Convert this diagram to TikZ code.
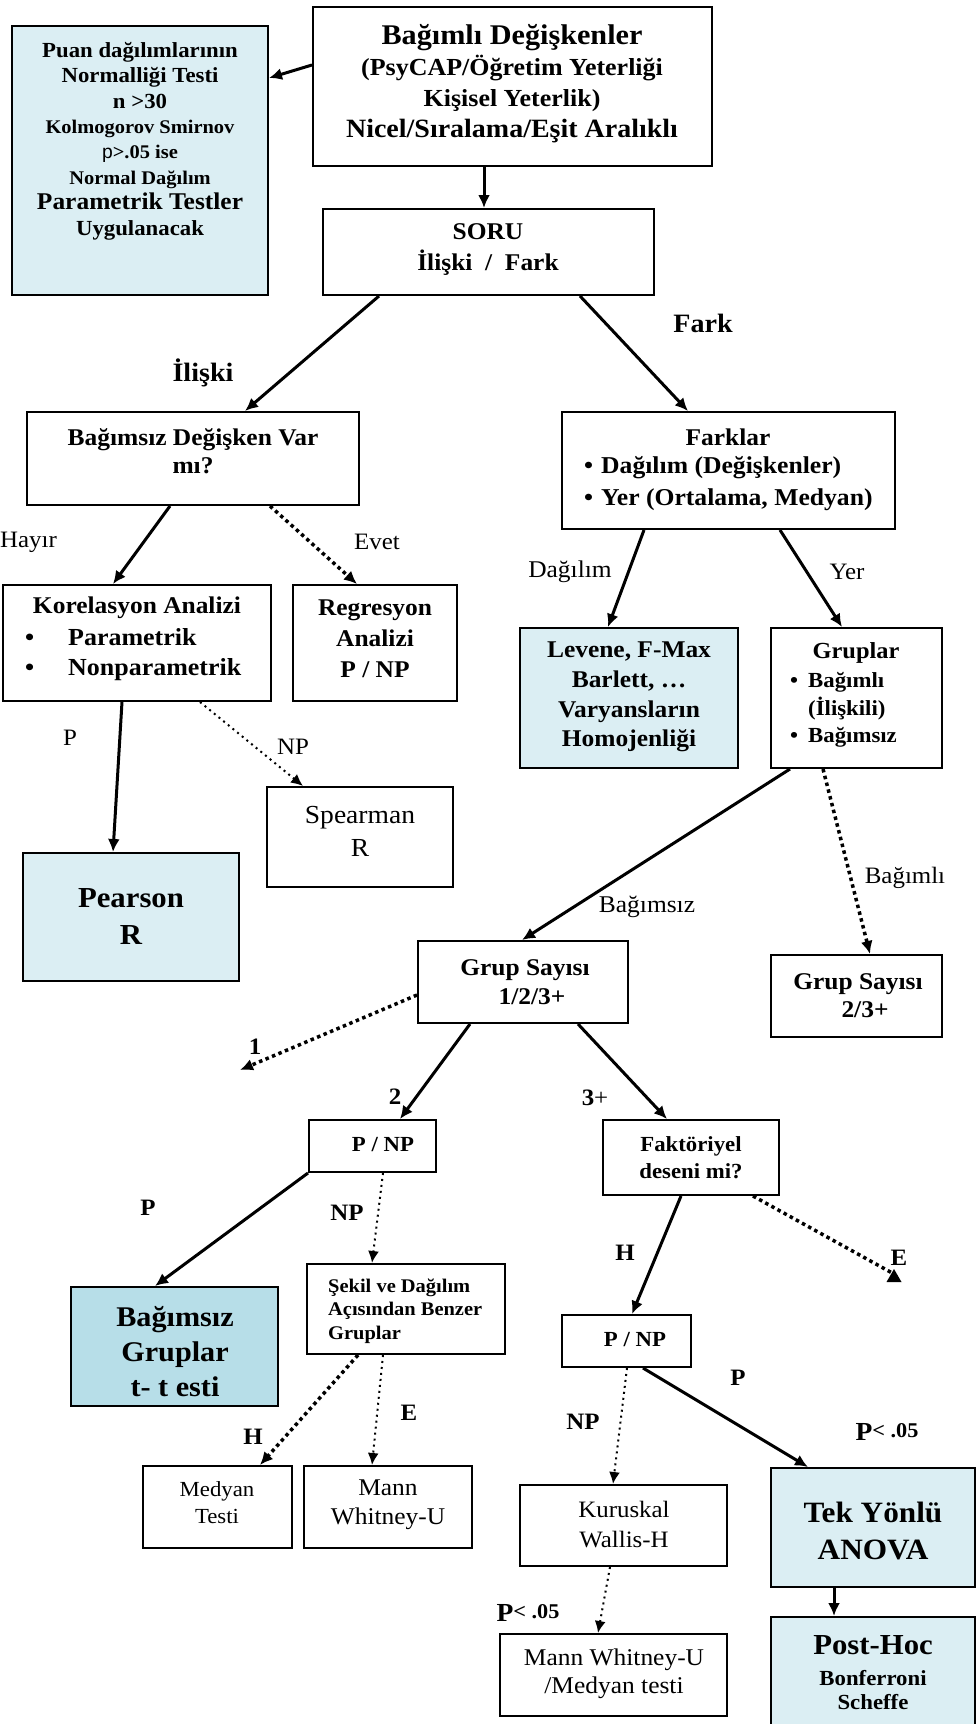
\documentclass[tikz,border=0pt]{standalone}
\usepackage{fontspec}
\setmainfont[FakeStretch=1.06]{Liberation Serif}
\setsansfont{Liberation Sans}
\usetikzlibrary{arrows.meta}
\definecolor{lb}{HTML}{DBEEF3}
\definecolor{lbd}{HTML}{B7DEE8}
\newcommand\fs[2]{\fontsize{#1}{#2}\selectfont}
\newcommand\bx[6]{\node[box,#6,minimum width={#4pt-#2pt},minimum height={#5pt-#3pt}] (#1) at ({(#2+#4)/2},{(#3+#5)/2}) {};}
\newcommand\plt{P\raisebox{3pt}{\fs{21}{21}\bfseries< .05}}
\tikzset{
  box/.style={draw, line width=2pt, inner sep=0pt, fill=white},
  blue/.style={fill=lb},
  bluedark/.style={fill=lbd},
  txt/.style={inner sep=0pt, align=center},
  arr/.style={line width=3pt, -{Latex[length=13pt,width=12pt]}},
  dotA/.style={line width=3.5pt, dash pattern=on 3.5pt off 3.5pt, -{Latex[length=13pt,width=12pt]}},
  dotB/.style={line width=2pt, dash pattern=on 2pt off 4pt, -{Latex[length=12pt,width=11pt]}},
  lbl/.style={inner sep=0pt, font=\fs{23.5}{26}},
  lblb/.style={inner sep=0pt, font=\fs{23.5}{26}\bfseries},
}
\begin{document}
\begin{tikzpicture}[x=1pt,y=-1pt]
\fill[white] (0,0) rectangle (976,1724);
\useasboundingbox (0,0) rectangle (976,1724);
% boxes
\bx{top}{313}{7}{712}{166}{}
\bx{left}{12}{26}{268}{295}{blue}
\bx{soru}{323}{209}{654}{295}{}
\bx{bdv}{27}{412}{359}{505}{}
\bx{kor}{3}{585}{271}{701}{}
\bx{reg}{293}{585}{457}{701}{}
\bx{farklar}{562}{412}{895}{529}{}
\bx{levene}{520}{628}{738}{768}{blue}
\bx{gruplar}{771}{628}{942}{768}{}
\bx{spearman}{267}{787}{453}{887}{}
\bx{pearson}{23}{853}{239}{981}{blue}
\bx{gs1}{418}{941}{628}{1023}{}
\bx{gs2}{771}{955}{942}{1037}{}
\bx{pnp1}{309}{1120}{436}{1172}{}
\bx{bgt}{71}{1287}{278}{1406}{bluedark}
\bx{sekil}{307}{1264}{505}{1354}{}
\bx{faktor}{603}{1120}{779}{1195}{}
\bx{pnp2}{562}{1315}{691}{1367}{}
\bx{medyan}{143}{1466}{292}{1548}{}
\bx{mann}{304}{1466}{472}{1548}{}
\bx{kurus}{520}{1485}{727}{1566}{}
\bx{mwm}{500}{1634}{727}{1716}{}
\bx{anova}{771}{1468}{975}{1587}{blue}
\bx{posthoc}{771}{1617}{975}{1732}{blue}
% texts
\node[txt, font=\fs{24.5}{31}\bfseries] (top-t) at (512,84) {{\fs{28.5}{31}\bfseries Bağımlı Değişkenler}\\(PsyCAP/Öğretim Yeterliği\\Kişisel Yeterlik)\\{\fs{26.4}{31}\bfseries Nicel/Sıralama/Eşit Aralıklı}};
\node[txt, font=\fs{20}{25.4}\bfseries] (left-t) at (140,141) {{\fs{21.5}{25}\bfseries Puan dağılımlarının}\\{\fs{21.5}{25}\bfseries Normalliği Testi}\\{\fs{21.5}{25}\bfseries n >30}\\{\fs{19.3}{25}\bfseries Kolmogorov Smirnov}\\{\fs{19.3}{25}\bfseries{\sffamily\mdseries p}>.05 ise}\\{\fs{19.3}{25}\bfseries Normal Dağılım}\\{\fs{24}{25}\bfseries Parametrik Testler}\\{\fs{21.5}{25}\bfseries Uygulanacak}};
\node[txt, font=\fs{24}{31}\bfseries] (soru-t) at (488,250) {SORU\\İlişki~~/~~Fark};
\node[txt, font=\fs{24}{28}\bfseries] (bdv-t) at (193,451) {Bağımsız Değişken Var\\mı?};
\node[txt, font=\fs{24}{28}\bfseries] (kor-t) at (137,608) {Korelasyon Analizi};
\node[txt, align=left, anchor=west, font=\fs{24.5}{30}\bfseries] (kor-i) at (25,655) {\makebox[43pt][l]{\textbullet}Parametrik\\\makebox[43pt][l]{\textbullet}Nonparametrik};
\node[txt, font=\fs{24}{31}\bfseries] (reg-t) at (375,639) {Regresyon\\Analizi\\P / NP};
\node[txt, font=\fs{24}{28}\bfseries] (farklar-t) at (728,437) {Farklar};
\node[txt, align=left, anchor=west, font=\fs{24.2}{32}\bfseries] (farklar-i) at (584,484) {\makebox[17pt][l]{\textbullet}Dağılım (Değişkenler)\\\makebox[17pt][l]{\textbullet}Yer (Ortalama, Medyan)};
\node[txt, font=\fs{24}{29.7}\bfseries] (levene-t) at (629,697) {Levene, F-Max\\Barlett, …\\Varyansların\\Homojenliği};
\node[txt, font=\fs{23}{28}\bfseries] (gruplar-t) at (856,653) {Gruplar};
\node[txt, align=left, anchor=west, font=\fs{21.5}{27.5}\bfseries] (gruplar-i) at (790,710) {\makebox[18pt][l]{\textbullet}Bağımlı\\\hspace*{18pt}(İlişkili)\\\makebox[18pt][l]{\textbullet}Bağımsız};
\node[txt, font=\fs{29}{37}\bfseries] (pearson-t) at (131,916) {Pearson\\R};
\node[txt, font=\fs{26}{33}] (spearman-t) at (360,831) {Spearman\\R};
\node[txt, font=\fs{24}{29}\bfseries] (gs1-t) at (525,982) {Grup Sayısı\\\hspace*{14pt}1/2/3+};
\node[txt, font=\fs{24}{28}\bfseries] (gs2-t) at (858,996) {Grup Sayısı\\\hspace*{14pt}2/3+};
\node[txt, font=\fs{21.5}{26}\bfseries] (pnp1-t) at (383,1145) {P / NP};
\node[txt, font=\fs{28.5}{35}\bfseries] (bgt-t) at (175,1352) {Bağımsız\\Gruplar\\t- t esti};
\node[txt, align=left, anchor=west, font=\fs{19.3}{23.5}\bfseries] (sekil-t) at (328,1311) {Şekil ve Dağılım\\Açısından Benzer\\Gruplar};
\node[txt, font=\fs{21.5}{27}] (medyan-t) at (217,1503) {Medyan\\Testi};
\node[txt, font=\fs{24}{29}] (mann-t) at (388,1505) {Mann\\Whitney-U};
\node[txt, font=\fs{21.5}{27}\bfseries] (faktor-t) at (691,1158) {Faktöriyel\\deseni mi?};
\node[txt, font=\fs{21.5}{26}\bfseries] (pnp2-t) at (635,1340) {P / NP};
\node[txt, font=\fs{23.5}{30}] (kurus-t) at (624,1525) {Kuruskal\\Wallis-H};
\node[txt, font=\fs{24}{28}] (mwm-t) at (614,1674) {Mann Whitney-U\\/Medyan testi};
\node[txt, font=\fs{29.5}{37}\bfseries] (anova-t) at (873,1531) {Tek Yönlü\\ANOVA};
\node[txt, font=\fs{29}{33}\bfseries] (posthoc-t1) at (873,1645) {Post-Hoc};
\node[txt, font=\fs{21.5}{24}\bfseries] (posthoc-t2) at (873,1690) {Bonferroni\\Scheffe};
% labels
\node[lblb, font=\fs{26.5}{28}\bfseries] (l-iliski) at (203,373) {İlişki};
\node[lblb, font=\fs{26.5}{28}\bfseries] (l-fark) at (703,323) {Fark};
\node[lbl, anchor=west] (l-hayir) at (0,542) {Hayır};
\node[lbl] (l-evet) at (377,542) {Evet};
\node[lbl] (l-p1) at (70,738) {P};
\node[lbl] (l-np1) at (293,747) {NP};
\node[lbl, font=\fs{24}{26}] (l-dag) at (570,572) {Dağılım};
\node[lbl] (l-yer) at (847,572) {Yer};
\node[lbl, font=\fs{24}{26}] (l-bsiz) at (647,907) {Bağımsız};
\node[lbl] (l-bli) at (905,878) {Bağımlı};
\node[lblb] (l-1) at (255,1047) {1};
\node[lblb] (l-2) at (395,1097) {2};
\node[lbl] (l-3) at (595,1098) {\textbf{3}+};
\node[lblb] (l-p2) at (148,1208) {P};
\node[lblb] (l-np2) at (347,1213) {NP};
\node[lblb] (l-h1) at (253,1437) {H};
\node[lblb] (l-e1) at (409,1413) {E};
\node[lblb] (l-h2) at (625,1253) {H};
\node[lblb] (l-e2) at (899,1258) {E};
\node[lblb] (l-p3) at (738,1378) {P};
\node[lblb] (l-np3) at (583,1422) {NP};
\node[lblb, font=\fs{26}{28}\bfseries] (l-p05a) at (887,1432) {\plt};
\node[lblb, font=\fs{26}{28}\bfseries] (l-p05b) at (528,1613) {\plt};
% free ends
\coordinate (c1) at (240,1070);
\coordinate (cE) at (894,1274);
% connectors
\draw[arr] ([yshift=21.5pt]top.west) -- ([yshift=82.5pt]left.east);
\draw[arr] ([xshift=-28.5pt]top.south) -- ([xshift=-28.5pt]top.south |- soru.north);
\draw[arr] ([xshift=-109.5pt]soru.south) -- ([xshift=52pt]bdv.north);
\draw[arr] ([xshift=91.5pt]soru.south) -- ([xshift=-40.5pt]farklar.north);
\draw[arr] ([xshift=-23pt]bdv.south) -- ([xshift=-24pt]kor.north);
\draw[dotA] ([xshift=77pt]bdv.south) -- ([xshift=-18pt]reg.north);
\draw[arr] ([xshift=-15pt]kor.south) -- ([xshift=-18pt]pearson.north);
\draw[dotB] ([xshift=63pt]kor.south) -- ([xshift=-57pt]spearman.north);
\draw[arr] ([xshift=-84.5pt]farklar.south) -- ([xshift=-21pt]levene.north);
\draw[arr] ([xshift=51.5pt]farklar.south) -- ([xshift=-14.5pt]gruplar.north);
\draw[arr] ([xshift=-66.5pt]gruplar.south) -- ([xshift=-1pt]gs1.north);
\draw[dotA] ([xshift=-33.5pt]gruplar.south) -- ([xshift=13.5pt]gs2.north);
\draw[dotA] ([yshift=-13pt]gs1.west) -- (c1);
\draw[arr] ([xshift=-53pt]gs1.south) -- ([xshift=27.5pt]pnp1.north);
\draw[arr] ([xshift=55pt]gs1.south) -- ([xshift=-24pt]faktor.north);
\draw[arr] (pnp1.south west) -- ([xshift=-19.5pt]bgt.north);
\draw[dotB] ([xshift=10.5pt]pnp1.south) -- ([xshift=-34pt]sekil.north);
\draw[dotA] ([xshift=-48pt]sekil.south) -- ([xshift=42.5pt]medyan.north);
\draw[dotB] ([xshift=-23pt]sekil.south) -- ([xshift=-16pt]mann.north);
\draw[arr] ([xshift=-10pt]faktor.south) -- ([xshift=5.5pt]pnp2.north);
\draw[dotA, -] ([xshift=62pt]faktor.south) -- (cE);
\fill ([shift={(-7.5,8)}]cE) -- ++(15,0) -- ++(-7.5,-13) -- cycle;
\draw[dotB] ([xshift=0.5pt]pnp2.south) -- ([xshift=-10.5pt]kurus.north);
\draw[arr] ([xshift=16.5pt]pnp2.south) -- ([xshift=-65pt]anova.north);
\draw[dotB] ([xshift=-13.5pt]kurus.south) -- ([xshift=-15.5pt]mwm.north);
\draw[arr] ([xshift=-39pt]anova.south) -- ([xshift=-39pt]posthoc.north);
\end{tikzpicture}
\end{document}
